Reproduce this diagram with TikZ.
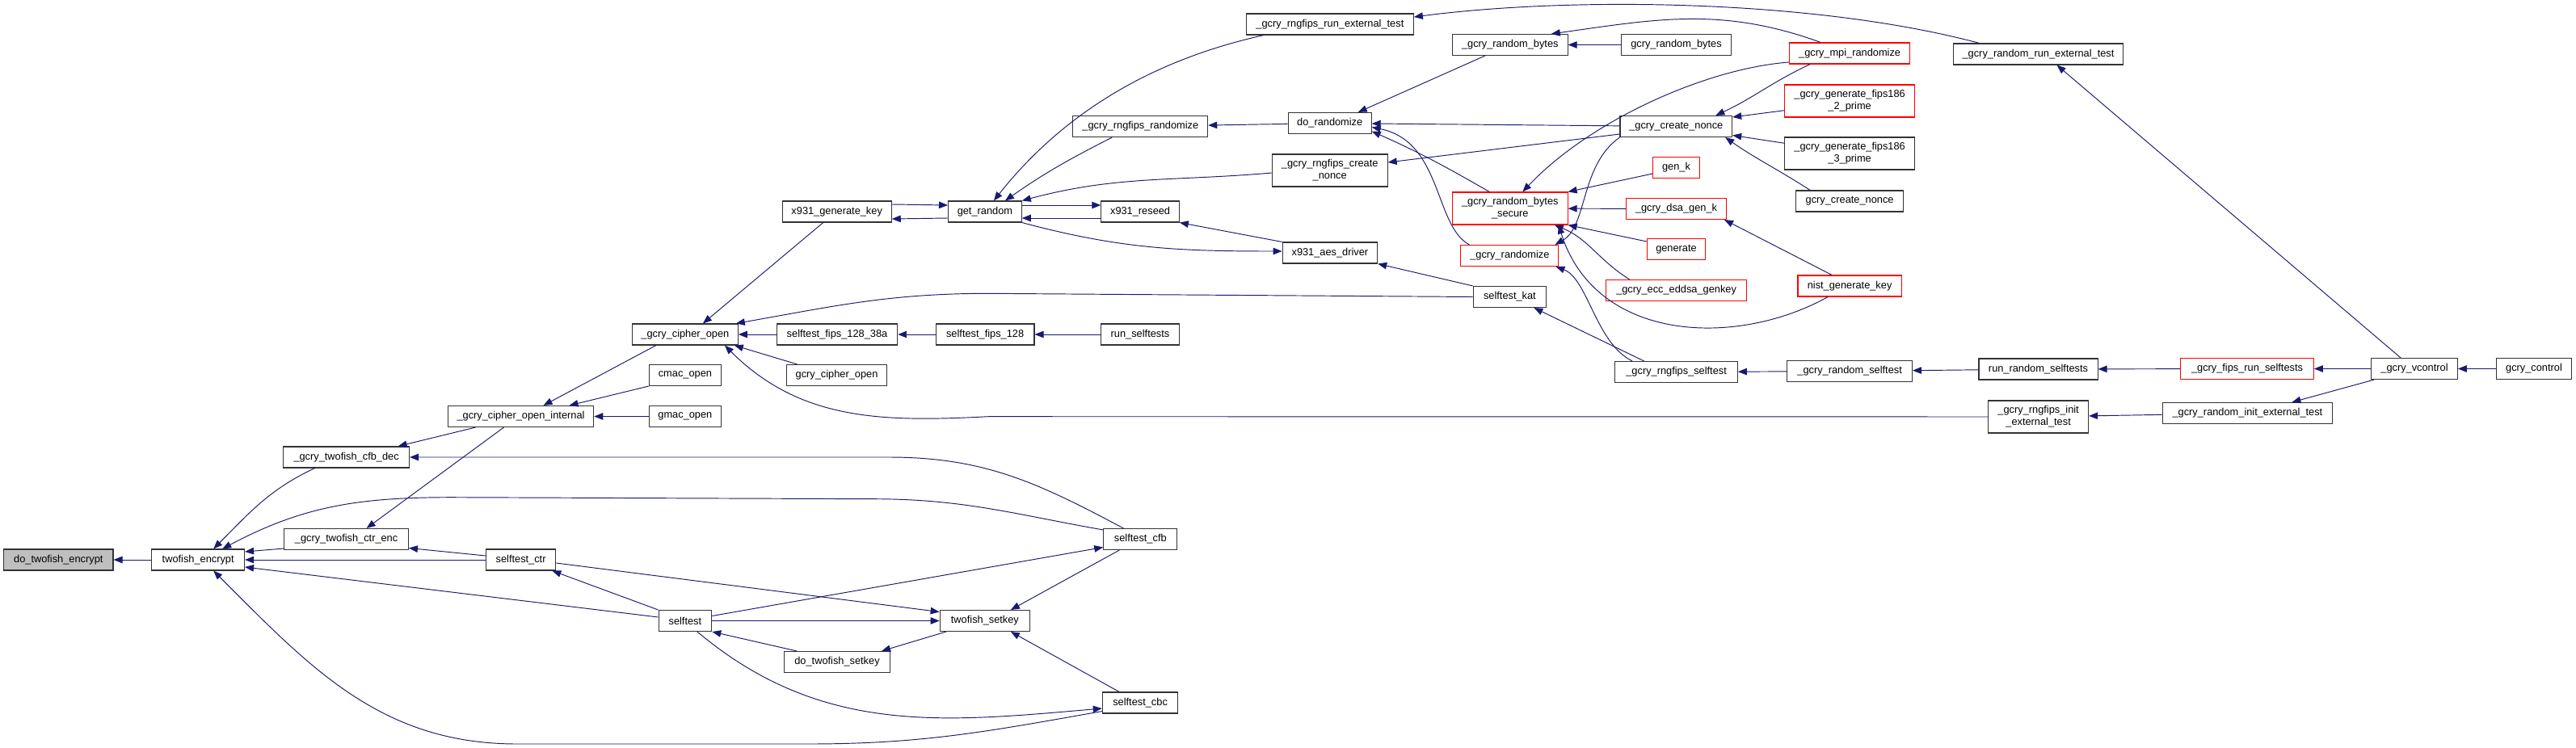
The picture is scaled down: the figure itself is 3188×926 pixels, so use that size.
\documentclass[tikz,border=0pt]{standalone}
\usepackage{fontspec}
\setmainfont{Liberation Sans}
\usetikzlibrary{arrows.meta}
\definecolor{EdgeBlue}{HTML}{191970}
\definecolor{RootGray}{HTML}{BFBFBF}
\definecolor{BoxInk}{HTML}{333333}
\definecolor{CutRed}{HTML}{FF0000}

\begin{document}
\begin{tikzpicture}[x=1pt,y=-1pt,every node/.style={font=\fontsize{12.8}{15}\selectfont},box/.style={draw=BoxInk,fill=white,line width=1.1pt,minimum height=26pt,inner sep=1pt,align=center},cutbox/.style={box,draw=CutRed},rootbox/.style={box,fill=RootGray},tallbox/.style={minimum height=40pt},arrow/.style={-{Triangle[length=11pt,width=8.5pt]},line width=0.95pt,draw=EdgeBlue}]
\fill[white] (0,0) rectangle (3188,926);
\useasboundingbox (0,0) rectangle (3188,926);

% twofish side
\node[rootbox,minimum width=135.4pt] (dte) at (72.3,693) {do\_twofish\_encrypt};
\node[box,minimum width=114.6pt] (te) at (245.2,693) {twofish\_encrypt};
\node[box,minimum width=155.7pt] (cfbdec) at (428.6,566) {\_gcry\_twofish\_cfb\_dec};
\node[box,minimum width=153.6pt] (ctrenc) at (428.6,667.5) {\_gcry\_twofish\_ctr\_enc};
\node[box,minimum width=180.4pt] (coi) at (644.5,515.5) {\_gcry\_cipher\_open\_internal};
\node[box,minimum width=86.4pt] (stctr) at (644.6,693) {selftest\_ctr};
\node[box,minimum width=130.7pt] (co) at (847.9,414) {\_gcry\_cipher\_open};
\node[box,minimum width=89.3pt] (cmac) at (847.9,464.5) {cmac\_open};
\node[box,minimum width=89.3pt] (gmac) at (847.9,515.5) {gmac\_open};
\node[box,minimum width=65.7pt] (st) at (847.9,768.5) {selftest};
\node[box,minimum width=135pt] (xgk) at (1035.7,262) {x931\_generate\_key};
\node[box,minimum width=149.3pt] (s38a) at (1036,414) {selftest\_fips\_128\_38a};
\node[box,minimum width=124.6pt] (gco) at (1035.5,464.5) {gcry\_cipher\_open};
\node[box,minimum width=130.7pt] (dts) at (1036,819.5) {do\_twofish\_setkey};
\node[box,minimum width=90.7pt] (gr) at (1218.9,262) {get\_random};
\node[box,minimum width=121.8pt] (sf128) at (1219.1,414) {selftest\_fips\_128};
\node[box,minimum width=111.4pt] (tsk) at (1218.9,768.5) {twofish\_setkey};
\node[box,minimum width=166.8pt] (rrand) at (1411.3,156.5) {\_gcry\_rngfips\_randomize};
\node[box,minimum width=96.4pt] (xrs) at (1411.1,262) {x931\_reseed};
\node[box,minimum width=97.1pt] (rst) at (1411,414) {run\_selftests};
\node[box,minimum width=91.1pt] (stcfb) at (1411.3,667.5) {selftest\_cfb};
\node[box,minimum width=93.6pt] (stcbc) at (1411.1,870) {selftest\_cbc};

% random side
\node[box,minimum width=206.8pt] (rrext) at (1645.9,30) {\_gcry\_rngfips\_run\_external\_test};
\node[box,minimum width=102.9pt] (dorand) at (1645.7,152.5) {do\_randomize};
\node[box,tallbox,minimum width=142.9pt] (rnonce) at (1645.7,211) {\_gcry\_rngfips\_create\\\_nonce};
\node[box,minimum width=117.5pt] (xad) at (1645.9,313) {x931\_aes\_driver};
\node[box,minimum width=142.5pt] (rb) at (1868.8,55.5) {\_gcry\_random\_bytes};
\node[cutbox,tallbox,minimum width=142.5pt] (rbs) at (1868.8,258) {\_gcry\_random\_bytes\\\_secure};
\node[cutbox,minimum width=121pt] (grand) at (1868.4,316.5) {\_gcry\_randomize};
\node[box,minimum width=90.4pt] (stkat) at (1868.4,367.5) {selftest\_kat};
\node[box,minimum width=136.1pt] (grb) at (2074.5,55.5) {gcry\_random\_bytes};
\node[box,minimum width=138.6pt] (cn) at (2074.3,156.5) {\_gcry\_create\_nonce};
\node[cutbox,minimum width=57.5pt] (genk) at (2074.5,207.5) {gen\_k};
\node[cutbox,minimum width=123.9pt] (dsak) at (2074.5,258.5) {\_gcry\_dsa\_gen\_k};
\node[cutbox,minimum width=72.5pt] (gen) at (2074.5,308.5) {generate};
\node[cutbox,minimum width=173.6pt] (eddsa) at (2074.6,359.5) {\_gcry\_ecc\_eddsa\_genkey};
\node[box,minimum width=151.4pt] (rst2) at (2074.6,460.5) {\_gcry\_rngfips\_selftest};
\node[cutbox,minimum width=149.6pt] (mpir) at (2289.1,66) {\_gcry\_mpi\_randomize};
\node[cutbox,tallbox,minimum width=160.4pt] (p2) at (2289.1,125) {\_gcry\_generate\_fips186\\\_2\_prime};
\node[box,tallbox,minimum width=160.4pt] (p3) at (2289.1,190) {\_gcry\_generate\_fips186\\\_3\_prime};
\node[box,minimum width=132.5pt] (gcn) at (2289.1,249) {gcry\_create\_nonce};
\node[cutbox,minimum width=128.2pt] (nist) at (2289.1,354) {nist\_generate\_key};
\node[box,minimum width=154.6pt] (rself) at (2289.1,459.5) {\_gcry\_random\_selftest};
\node[box,minimum width=210.7pt] (rrunext) at (2522.5,67) {\_gcry\_random\_run\_external\_test};
\node[box,minimum width=147.1pt] (rrs) at (2522.5,457) {run\_random\_selftests};
\node[box,tallbox,minimum width=123.9pt] (rinit) at (2522.6,516) {\_gcry\_rngfips\_init\\\_external\_test};
\node[cutbox,minimum width=164.7pt] (fips) at (2781,456.5) {\_gcry\_fips\_run\_selftests};
\node[box,minimum width=210.6pt] (rinitx) at (2781.4,511.5) {\_gcry\_random\_init\_external\_test};
\node[box,minimum width=106.7pt] (vc) at (2988,456.5) {\_gcry\_vcontrol};
\node[box,minimum width=93.3pt] (gc) at (3136,456.5) {gcry\_control};

% callers of twofish_encrypt
\draw[arrow] (te) -- (dte);
\draw[arrow] ([xshift=-39pt]cfbdec.south) to[out=205,in=45] ([xshift=19pt]te.north);
\draw[arrow] ([yshift=2pt]ctrenc.south west) -- ([yshift=10pt]te.east); \draw[arrow] (stctr) -- (te);
\draw[arrow] ([yshift=-2pt]stcfb.north west) to[out=170,in=0] (1080,617.7) -- (560,615.7) to[out=180,in=28] ([xshift=30pt]te.north);
\draw[arrow] ([yshift=3pt]stcbc.south west) to[out=190,in=0] (1000,921) -- (640,921) to[out=180,in=-45] ([xshift=19pt]te.south);
\draw[arrow] ([yshift=4.5pt]st.west) -- ([yshift=-9pt]te.east);

\draw[arrow] ([xshift=-56pt]coi.south) -- ([xshift=64pt]cfbdec.north); \draw[arrow] ([xshift=-21pt]coi.south) -- ([xshift=25pt]ctrenc.north);
\draw[arrow] ([xshift=-36pt]co.south) -- ([xshift=28pt]coi.north); \draw[arrow] (cmac.south west) -- ([xshift=60pt]coi.north); \draw[arrow] (gmac) -- (coi);
\draw[arrow] ([yshift=5pt]stctr.west) -- ([yshift=-11pt]ctrenc.east); \draw[arrow] (st.north west) -- ([xshift=-5pt]stctr.south east);
\draw[arrow] ([yshift=-4pt]stctr.east) -- ([yshift=11pt]tsk.west); \draw[arrow] (st) -- (tsk);
\draw[arrow] ([yshift=6pt]st.east) -- ([yshift=-10pt]stcfb.west);
\draw[arrow] ([xshift=15pt]st.south) to[out=-40,in=185] ([yshift=-7pt]stcbc.west);
\draw[arrow] ([xshift=-50pt]dts.north) -- (st.south east); \draw[arrow] ([xshift=-48pt]tsk.south) -- ([xshift=55pt]dts.north);
\draw[arrow] ([xshift=-26pt]stcfb.south) -- ([xshift=32pt]tsk.north); \draw[arrow] ([xshift=-26pt]stcbc.north) -- ([xshift=32pt]tsk.south);
\draw[arrow] ([xshift=-21pt]stcfb.north) to[out=152,in=0] (1100,566) -- (cfbdec);

% cipher open and get_random
\draw[arrow] ([xshift=-17pt]xgk.south) -- ([xshift=22pt]co.north);
\draw[arrow] (stkat.west) -- (1222.9,363.3) to[out=180,in=10] ([xshift=-3pt]co.north east);
\draw[arrow] (s38a) -- (co); \draw[arrow] ([xshift=-49pt]gco.north) -- ([xshift=-5pt]co.south east);
\draw[arrow] (rinit) -- (1222.9,515.7) to[out=183,in=-45] ([xshift=49pt]co.south);
\draw[arrow] (sf128) -- (s38a); \draw[arrow] (rst) -- (sf128);
\draw[arrow] ([yshift=9pt]xgk.east) -- ([yshift=8pt]gr.west); \draw[arrow] ([yshift=-8pt]gr.west) -- ([yshift=-9pt]xgk.east);
\draw[arrow] ([yshift=8pt]gr.east) -- ([yshift=8pt]xrs.west); \draw[arrow] ([yshift=-8pt]xrs.west) -- ([yshift=-8pt]gr.east);
\draw[arrow] ([xshift=-82pt]rrext.south) .. controls (1400,80) and (1300,160) .. ([xshift=11pt]gr.north);
\draw[arrow] ([xshift=-35pt]rrand.south) to[out=207,in=35] ([xshift=25pt]gr.north);
\draw[arrow] ([yshift=-3pt]rnonce.west) to[out=185,in=15] (gr.north east);
\draw[arrow] (gr.south east) to[out=-15,in=180] ([yshift=2pt]xad.west);
\draw[arrow] (xad.north west) -- (xrs.south east); \draw[arrow] (dorand) -- (rrand); \draw[arrow] (stkat.north west) -- (xad.south east);

% random bytes and nonces
\draw[arrow] ([xshift=-31pt]rb.south) -- ([xshift=35pt]dorand.north); \draw[arrow] (grb) -- (rb);
\draw[arrow] (cn) -- (dorand); \draw[arrow] ([yshift=-9.5pt]cn.west) -- ([yshift=10pt]rnonce.east);
\draw[arrow] ([xshift=-25.6pt]rbs.north) to[out=150,in=-24] ([yshift=-10pt]dorand.east);
\draw[arrow] ([xshift=-50pt]grand.north) .. controls (1775,280) and (1785,175) .. ([yshift=-5pt]dorand.east);
\draw[arrow] ([xshift=-36pt]mpir.north) to[out=160,in=8] ([xshift=51pt]rb.north);
\draw[arrow] ([yshift=-11pt]mpir.west) .. controls (2110,85) and (1967,150) .. ([xshift=15.5pt]rbs.north);
\draw[arrow] ([xshift=-49pt]mpir.south) to[out=205,in=25] ([xshift=49pt]cn.north);
\draw[arrow] ([yshift=-11.7pt]p2.west) -- ([yshift=11.5pt]cn.east); \draw[arrow] ([yshift=12.7pt]p3.west) -- ([yshift=-11pt]cn.east);
\draw[arrow] ([xshift=-49pt]gcn.north) to[out=147,in=-35] ([xshift=-9pt]cn.south east);
\draw[arrow] ([yshift=-7.5pt]genk.west) -- (rbs.north east); \draw[arrow] (dsak) -- (rbs); \draw[arrow] ([yshift=-4pt]gen.north west) -- (rbs.south east);
\draw[arrow] ([xshift=-58pt]eddsa.north) to[out=148,in=-22] ([xshift=55pt]rbs.south);
\draw[arrow] ([xshift=-27pt]nist.south) .. controls (2150,430) and (1975,425) .. ([xshift=60pt]rbs.south);
\draw[arrow] ([xshift=-22pt]nist.north) -- ([xshift=-3pt]dsak.south east);
\draw[arrow] (cn.south west) .. controls (1955,205) and (1965,280) .. ([xshift=-5pt]grand.north east);
\draw[arrow] ([xshift=-54.6pt]rst2.north) .. controls (1975,425) and (1965,345) .. ([xshift=-4pt]grand.south east);
\draw[arrow] ([xshift=-40pt]rst2.north) -- ([xshift=30pt]stkat.south);

% self tests and control
\draw[arrow] (rself) -- (rst2); \draw[arrow] (rrs) -- (rself); \draw[arrow] (fips) -- (rrs); \draw[arrow] (vc) -- (fips); \draw[arrow] (gc) -- (vc);
\draw[arrow] ([xshift=4pt]vc.south west) -- ([xshift=55pt]rinitx.north); \draw[arrow] (rinitx) -- (rinit);
\draw[arrow] ([xshift=-17pt]vc.north) -- ([xshift=23pt]rrunext.south);
\draw[arrow] ([xshift=-73pt]rrunext.north) .. controls (2250,0) and (1950,-5) .. ([yshift=9pt]rrext.east);

\end{tikzpicture}
\end{document}
